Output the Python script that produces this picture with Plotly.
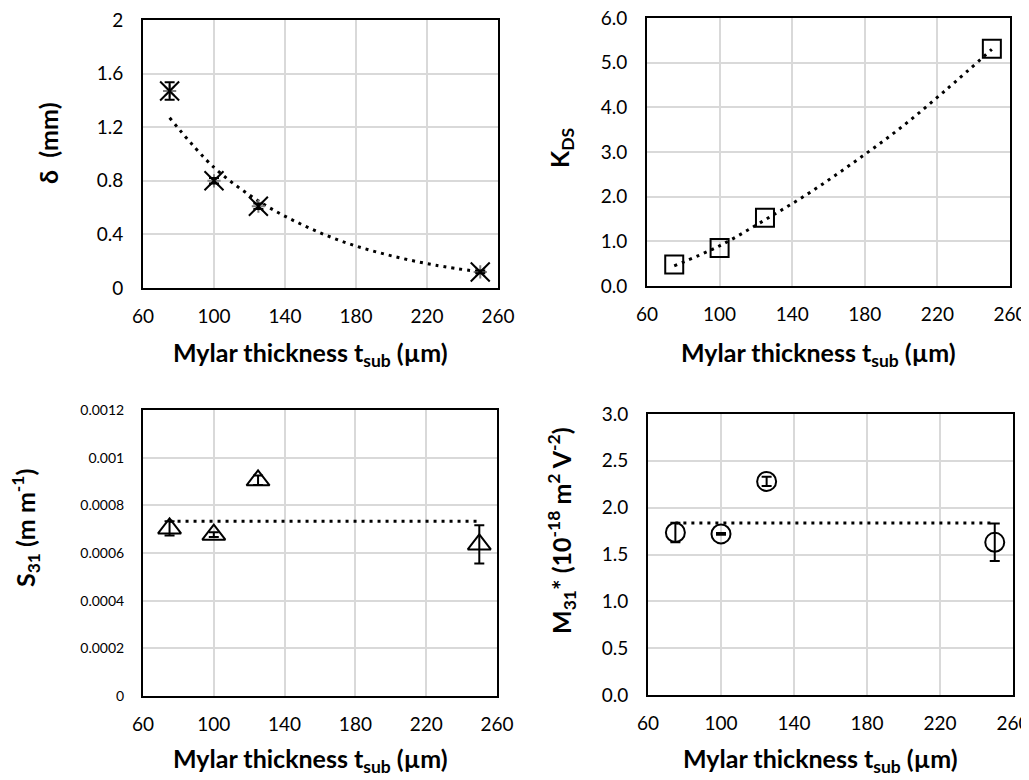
import plotly.graph_objects as go

# ---------------- data ----------------
thickness = [75, 100, 125, 250]

delta = [1.47, 0.80, 0.61, 0.12]
delta_err = [0.065, 0.02, 0.02, 0.01]
delta_trend_x = [75, 100, 125, 150, 175, 200, 225, 250]
delta_trend = [1.27, 0.90, 0.65, 0.47, 0.335, 0.24, 0.17, 0.12]

kds = [0.48, 0.85, 1.53, 5.31]
kds_trend_x = [75, 100, 125, 150, 175, 200, 225, 250]
kds_trend = [0.45, 0.90, 1.48, 2.10, 2.80, 3.55, 4.40, 5.30]

s31 = [0.000703, 0.000677, 0.000905, 0.000636]
s31_err = [0.00003, 0.00001, 0.00002, 0.00008]
s31_trend_x = [75, 250]
s31_trend = [0.000733, 0.000733]

m31 = [1.735, 1.72, 2.28, 1.63]
m31_err = [0.105, 0.01, 0.05, 0.20]
m31_trend_x = [75, 250]
m31_trend = [1.835, 1.835]

x_ticks = [60, 100, 140, 180, 220, 260]
delta_ticks = [0, 0.4, 0.8, 1.2, 1.6, 2]
delta_ticktext = ["0", "0.4", "0.8", "1.2", "1.6", "2"]
kds_ticks = [0, 1, 2, 3, 4, 5, 6]
s31_ticks = [0, 0.0002, 0.0004, 0.0006, 0.0008, 0.001, 0.0012]
s31_ticktext = ["0", "0.0002", "0.0004", "0.0006", "0.0008", "0.001", "0.0012"]
m31_ticks = [0, 0.5, 1.0, 1.5, 2.0, 2.5, 3.0]

x_title = "<b>Mylar thickness t<sub>sub</sub> (µm)</b>"
y_titles = [
    "<b>δ  (mm)</b>",
    "<b>K<sub>DS</sub></b>",
    "<b>S<sub>31</sub> (m m<sup>-1</sup>)</b>",
    "<b>M<sub>31</sub>* (10<sup>-18</sup> m<sup>2</sup> V<sup>-2</sup>)</b>",
]

FONT = "Lato"
TICK_SIZE = 19
TITLE_SIZE = 25

# The page places the figure 8 px in from the window's top-left corner,
# so the figure is laid out in window pixels shifted by this offset.
OFF = 8
W, H = 1029 - OFF, 780 - OFF

# plot-area boxes in window pixels (left, right, top, bottom)
boxes = [
    (143, 498, 20, 288),
    (647, 1010, 18, 286),
    (143, 497, 410, 696),
    (648, 1013, 414, 695),
]


def px(v):
    return (v - OFF) / W


def py(v):
    return 1 - (v - OFF) / H


fig = go.Figure()

trend_line = dict(color="black", width=3, dash="3px,5px")


def err(vals):
    return dict(type="data", array=vals, visible=True, color="black",
                thickness=2, width=5)


# Panel 1
fig.add_trace(go.Scatter(x=delta_trend_x, y=delta_trend, mode="lines",
                         line=dict(shape="spline", **trend_line),
                         xaxis="x", yaxis="y", hoverinfo="skip"))
fig.add_trace(go.Scatter(x=thickness, y=delta, mode="markers",
                         marker=dict(symbol="asterisk-open", size=11,
                                     color="#7f7f7f",
                                     line=dict(color="#7f7f7f", width=2)),
                         xaxis="x", yaxis="y"))
fig.add_trace(go.Scatter(x=thickness, y=delta, mode="markers",
                         error_y=err(delta_err),
                         marker=dict(symbol="x-thin-open", size=19,
                                     color="black",
                                     line=dict(color="black", width=2)),
                         xaxis="x", yaxis="y"))

# Panel 2
fig.add_trace(go.Scatter(x=kds_trend_x, y=kds_trend, mode="lines",
                         line=dict(shape="spline", **trend_line),
                         xaxis="x2", yaxis="y2", hoverinfo="skip"))
fig.add_trace(go.Scatter(x=thickness, y=kds, mode="markers",
                         marker=dict(symbol="square-open", size=18,
                                     color="black",
                                     line=dict(color="black", width=2)),
                         xaxis="x2", yaxis="y2"))

# Panel 3
fig.add_trace(go.Scatter(x=s31_trend_x, y=s31_trend, mode="lines",
                         line=trend_line, xaxis="x3", yaxis="y3",
                         hoverinfo="skip"))
fig.add_trace(go.Scatter(x=thickness, y=s31, mode="markers",
                         error_y=err(s31_err),
                         marker=dict(symbol="triangle-up-open", size=20,
                                     color="black",
                                     line=dict(color="black", width=2)),
                         xaxis="x3", yaxis="y3"))

# Panel 4
fig.add_trace(go.Scatter(x=m31_trend_x, y=m31_trend, mode="lines",
                         line=trend_line, xaxis="x4", yaxis="y4",
                         hoverinfo="skip"))
fig.add_trace(go.Scatter(x=thickness, y=m31, mode="markers",
                         error_y=err(m31_err),
                         marker=dict(symbol="circle-open", size=19,
                                     color="black",
                                     line=dict(color="black", width=2)),
                         xaxis="x4", yaxis="y4"))


def xaxis(b, anchor):
    return dict(domain=[px(b[0]), px(b[1])], anchor=anchor, range=[60, 260],
                tickvals=x_ticks, showgrid=True, gridcolor="#d9d9d9",
                gridwidth=1.5, showline=True, linecolor="black",
                linewidth=2, mirror=True, zeroline=False, ticks="",
                automargin=False, ticklabelstandoff=10,
                ticklabeloverflow="allow",
                tickfont=dict(family=FONT, size=TICK_SIZE, color="black"))


def yaxis(b, anchor, rng, tickvals, ticktext=None, fmt=None,
          size=TICK_SIZE):
    d = dict(domain=[py(b[3]), py(b[2])], anchor=anchor, range=rng,
             tickvals=tickvals,
             showgrid=True, gridcolor="#d9d9d9", gridwidth=1.5,
             showline=True, linecolor="black", linewidth=2, mirror=True,
             zeroline=False, ticks="", automargin=False,
             ticklabelstandoff=14, ticklabeloverflow="allow",
             tickfont=dict(family=FONT, size=size, color="black"))
    if ticktext is not None:
        d["ticktext"] = ticktext
    if fmt is not None:
        d["tickformat"] = fmt
    return d


annotations = []
# x-axis titles
x_title_y = [354, 354, 760, 760]
for b, ty in zip(boxes, x_title_y):
    annotations.append(dict(
        text=x_title, x=px((b[0] + b[1]) / 2 - 10), y=py(ty),
        xref="paper", yref="paper", xanchor="center", yanchor="middle",
        showarrow=False,
        font=dict(family=FONT, size=TITLE_SIZE, color="black")))
# y-axis titles
y_title_pos = [(48, 143), (561, 148), (25, 528), (561, 531)]
for (tx, ty), t in zip(y_title_pos, y_titles):
    annotations.append(dict(
        text=t, x=px(tx), y=py(ty), xref="paper", yref="paper",
        xanchor="center", yanchor="middle", textangle=-90,
        showarrow=False,
        font=dict(family=FONT, size=TITLE_SIZE, color="black")))

fig.update_layout(
    width=W, height=H,
    margin=dict(l=0, r=0, t=0, b=0),
    paper_bgcolor="white", plot_bgcolor="white",
    showlegend=False,
    font=dict(family=FONT, color="black"),
    xaxis=xaxis(boxes[0], "y"),
    yaxis=yaxis(boxes[0], "x", [0, 2], delta_ticks, ticktext=delta_ticktext),
    xaxis2=xaxis(boxes[1], "y2"),
    yaxis2=yaxis(boxes[1], "x2", [0, 6], kds_ticks, fmt=".1f"),
    xaxis3=xaxis(boxes[2], "y3"),
    yaxis3=yaxis(boxes[2], "x3", [0, 0.0012], s31_ticks,
                 ticktext=s31_ticktext, size=14),
    xaxis4=xaxis(boxes[3], "y4"),
    yaxis4=yaxis(boxes[3], "x4", [0, 3], m31_ticks, fmt=".1f"),
    annotations=annotations,
)

fig.write_html("out.html")
